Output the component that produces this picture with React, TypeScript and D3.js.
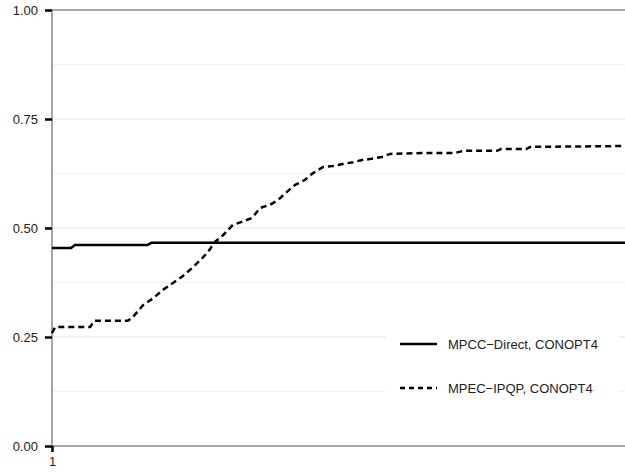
import React, { useRef, useEffect } from 'react';
import * as d3 from 'd3';

// performance profile data
const directX = [1.0, 1.3, 1.36, 2.5, 2.56, 10.0];
const directY = [0.454, 0.454, 0.461, 0.461, 0.466, 0.466];

const ipqpX = [1.0, 1.05, 1.6, 1.66, 2.19, 2.26, 2.43, 2.59, 2.74, 2.9, 3.04, 3.2, 3.36, 3.45, 3.56, 3.69, 3.84, 3.98, 4.14, 4.27, 4.42, 4.55, 4.69, 4.82, 4.97, 5.1, 5.26, 5.41, 5.57, 5.73, 5.87, 5.99, 6.18, 6.31, 6.81, 7.33, 7.46, 7.99, 8.05, 8.45, 8.51, 10.0];
const ipqpY = [0.259, 0.273, 0.273, 0.287, 0.287, 0.294, 0.323, 0.339, 0.358, 0.374, 0.388, 0.408, 0.431, 0.445, 0.468, 0.484, 0.507, 0.514, 0.523, 0.546, 0.553, 0.564, 0.583, 0.599, 0.61, 0.626, 0.64, 0.642, 0.647, 0.651, 0.656, 0.658, 0.663, 0.67, 0.672, 0.672, 0.677, 0.677, 0.681, 0.681, 0.686, 0.688];

const yTicks = [0, 0.25, 0.5, 0.75, 1];
const yGrid = [0.125, 0.25, 0.375, 0.5, 0.625, 0.75, 0.875];
const xTicks = [1];

const seriesNames = ['MPCC\u2212Direct, CONOPT4', 'MPEC\u2212IPQP, CONOPT4'];

const width = 625;
const height = 473;
const margin = { top: 10, right: 0, bottom: 27, left: 52 };
const font = 'Liberation Sans, Arial, sans-serif';

const App = () => {
  const svgRef = useRef<SVGSVGElement>(null);

  useEffect(() => {
    const svg = d3.select(svgRef.current);
    svg.selectAll('*').remove();

    const x = d3.scaleLinear().domain([1, 10]).range([margin.left, width - margin.right]);
    const y = d3.scaleLinear().domain([0, 1]).range([height - margin.bottom, margin.top]);

    // grid
    svg.append('g')
      .selectAll('line')
      .data(yGrid)
      .enter().append('line')
      .attr('x1', margin.left)
      .attr('x2', width)
      .attr('y1', d => y(d))
      .attr('y2', d => y(d))
      .attr('stroke', d => (d * 4) % 1 === 0 ? '#e3e3e3' : '#f2f2f2')
      .attr('stroke-width', 1);

    // frame
    const frame = svg.append('g').attr('stroke', '#888').attr('stroke-width', 1.5);
    frame.append('line').attr('x1', margin.left).attr('x2', width).attr('y1', y(1)).attr('y2', y(1));
    frame.append('line').attr('x1', margin.left).attr('x2', width).attr('y1', y(0)).attr('y2', y(0));
    frame.append('line').attr('x1', margin.left).attr('x2', margin.left).attr('y1', y(0)).attr('y2', y(1));

    // y axis
    const yAxis = svg.append('g')
      .attr('transform', `translate(${margin.left},0)`)
      .call(d3.axisLeft(y).tickValues(yTicks).tickFormat(d3.format('.2f')).tickSize(7).tickPadding(7));
    yAxis.select('.domain').remove();
    yAxis.selectAll('line').attr('stroke', '#000').attr('stroke-width', 2.5);
    yAxis.selectAll('text').attr('font-family', font).attr('font-size', 13).attr('fill', '#222');

    // x axis
    const xAxis = svg.append('g')
      .attr('transform', `translate(0,${y(0)})`)
      .call(d3.axisBottom(x).tickValues(xTicks).tickFormat(d3.format('d')).tickSize(6).tickPadding(5));
    xAxis.select('.domain').remove();
    xAxis.selectAll('line').attr('stroke', '#000').attr('stroke-width', 2.5);
    xAxis.selectAll('text').attr('font-family', font).attr('font-size', 13).attr('fill', '#222');

    const line = d3.line<number>()
      .x(d => x(d[0]))
      .y(d => y(d[1]));

    const direct = directX.map((v, i) => [v, directY[i]]);
    const ipqp = ipqpX.map((v, i) => [v, ipqpY[i]]);

    svg.append('path')
      .attr('d', line(direct as any))
      .attr('fill', 'none')
      .attr('stroke', '#000')
      .attr('stroke-width', 2.5);

    svg.append('path')
      .attr('d', line(ipqp as any))
      .attr('fill', 'none')
      .attr('stroke', '#000')
      .attr('stroke-width', 2.5)
      .attr('stroke-dasharray', '6,4');

    // legend
    const legend = svg.append('g');
    legend.append('rect')
      .attr('x', 386).attr('y', 322).attr('width', 233).attr('height', 84)
      .attr('fill', '#fff');
    const dashes = [null, '5,4'];
    seriesNames.forEach((name, i) => {
      const ly = 344 + i * 44;
      legend.append('line')
        .attr('x1', 400).attr('x2', 437).attr('y1', ly).attr('y2', ly)
        .attr('stroke', '#000').attr('stroke-width', 2.5)
        .attr('stroke-dasharray', dashes[i]);
      legend.append('text')
        .attr('x', 448).attr('y', ly + 5)
        .attr('font-family', font)
        .attr('font-size', 13)
        .attr('fill', '#222')
        .text(name);
    });
  }, []);

  return (
    <svg ref={svgRef} width={width} height={height}
      style={{ position: 'absolute', left: 0, top: 0, background: '#fff' }} />
  );
};

export default App;
